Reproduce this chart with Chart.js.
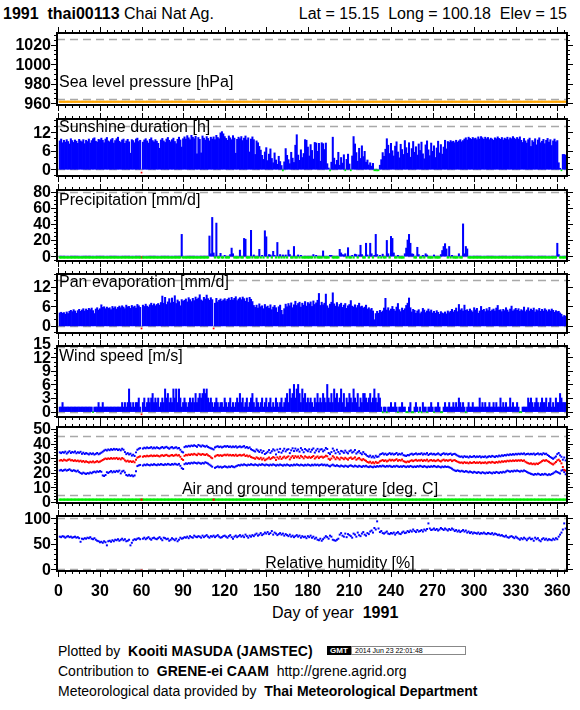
<!DOCTYPE html>
<html>
<head>
<meta charset="utf-8">
<script src="https://cdn.jsdelivr.net/npm/chart.js@4.4.1/dist/chart.umd.min.js"></script>
<style>
    body { margin: 0; width: 580px; height: 710px; background: #fff; position: relative; overflow: hidden;
           font-family: "Liberation Sans", Arial, sans-serif; color: #000; }
    canvas { position: absolute; left: 0; }
    .t { position: absolute; white-space: pre; line-height: 18px; }
    .f { position: absolute; white-space: pre; font-size: 14px; line-height: 16px; left: 58px; }
    .gmt { position: absolute; left: 327px; top: 646px; width: 24px; height: 9px; background: #000; color: #fff;
           font: bold 8px/9px "Liberation Sans", Arial, sans-serif; text-align: center; }
    .stamp { position: absolute; left: 351px; top: 646px; width: 110px; height: 7px; border: 1px solid #888;
             font: 7px/7px "Liberation Sans", Arial, sans-serif; padding-left: 3px; }
</style>
</head>
<body>
<div class="t" style="left:3px; top:5px; font-size:16px;"><b>1991  thai00113</b> Chai Nat Ag.</div>
<div class="t" style="right:13px; top:5px; font-size:16px;">Lat = 15.15  Long = 100.18  Elev = 15</div>
<div class="t" style="left:272px; top:604px; font-size:16px;">Day of year  <b>1991</b></div>
<div class="f" style="top:643px;">Plotted by  <b>Kooiti MASUDA (JAMSTEC)</b></div>
<div class="gmt">GMT</div>
<div class="stamp">2014 Jun 23 22:01:48</div>
<div class="f" style="top:663px;">Contribution to  <b>GRENE-ei CAAM</b>  http://grene.agrid.org</div>
<div class="f" style="top:683px;">Meteorological data provided by  <b>Thai Meteorological Department</b></div>

<script>
// day of year, 1..366 (day 60 is the empty Feb 29 slot)
const days = Array.from({ length: 366 }, (_, i) => i + 1);
const dayTicks = [0, 30, 60, 90, 120, 150, 180, 210, 240, 270, 300, 330, 360];

// no pressure reports this year
const pressure = new Array(366).fill(null);
const groundTemp = new Array(366).fill(null);

const sunshine = [
    9.2, 9.8, 8.6, 9.4, 8.8, 9.6, 9.0, 8.2, 9.9, 9.3,
    8.7, 9.5, 9.1, 8.4, 9.7, 9.2, 8.9, 9.6, 8.3, 9.4,
    9.0, 9.8, 8.5, 9.3, 9.9, 10.2, 9.1, 8.8, 9.7, 9.5,
    10.1, 9.4, 8.6, 9.8, 10.3, 9.2, 8.9, 9.6, 10.0, 8.5,
    9.3, 9.9, 10.4, 9.1, 8.7, 9.5, 9.8, 8.4, 9.2, 9.7,
    8.9, 5.2, 9.6, 9.3, 8.6, 9.8, 10.1, 9.0, 9.4, null,
    8.8, 9.5, 9.9, 9.2, 8.5, 9.7, 10.2, 9.3, 8.9, 9.6,
    9.1, 8.4, 6.8, 9.5, 10.0, 9.2, 8.7, 9.8, 10.3, 9.4,
    8.9, 9.6, 10.1, 9.0, 8.3, 9.7, 10.4, 9.5, 7.2, 9.9,
    10.5, 9.8, 10.9, 10.2, 9.6, 11.0, 10.4, 9.9, 10.7, 5.0,
    10.3, 9.7, 5.3, 10.8, 10.1, 9.5, 10.6, 10.0, 9.2, 10.4,
    9.8, 10.5, 9.6, 11.0, 10.3, 9.9, 11.8, 12.2, 11.5, 10.6,
    10.0, 9.4, 10.8, 10.2, 9.6, 10.9, 10.1, 5.2, 9.7, 10.4,
    9.9, 10.6, 9.3, 10.1, 10.8, 9.5, 10.2, 5.6, 9.8, 10.5,
    9.6, 4.8, 9.2, 8.6, 7.4, 6.2, 4.5, 3.2, 5.6, 7.0,
    2.8, 4.9, 6.6, 3.5, 2.1, 5.3, 3.0, 1.6, 4.2, 2.5,
    1.2, 0, 2.4, 6.7, 4.5, 3.1, 1.8, 5.5, 3.6, 2.2,
    7.8, 11.2, 4.6, 2.9, 6.3, 3.8, 5.1, 9.6, 9.4, 7.2,
    4.3, 8.0, 6.1, 3.3, 8.7, 8.5, 5.8, 8.4, 2.6, 8.6,
    8.3, 6.4, 8.5, 1.8, 0.4, 0, 2.3, 10.4, 3.6, 1.5,
    2.9, 5.5, 1.3, 3.8, 2.0, 4.7, 0, 3.2, 4.9, 1.7,
    0, 4.3, 10.6, 8.2, 5.4, 2.6, 6.8, 3.5, 7.6, 4.1,
    5.8, 2.3, 3.0, 1.4, 2.1, 1.0, 1.9, 0, 0, 0,
    0, 1.3, 3.1, 5.4, 4.2, 6.5, 9.9, 7.8, 5.1, 8.4,
    6.0, 4.3, 7.5, 8.9, 5.6, 3.7, 8.1, 6.4, 4.8, 9.3,
    7.0, 5.2, 8.6, 3.9, 6.7, 9.0, 5.5, 7.3, 4.6, 8.2,
    6.1, 8.8, 5.0, 3.4, 7.9, 9.2, 6.3, 4.4, 8.5, 5.8,
    7.6, 3.8, 6.9, 9.1, 5.3, 8.0, 4.9, 7.2, 9.4, 6.6,
    9.0, 8.7, 9.3, 8.9, 9.1, 8.6, 9.4, 8.8, 9.2, 9.6,
    8.9, 9.3, 9.8, 10.2, 9.5, 10.4, 10.0, 9.7, 10.3, 9.9,
    10.1, 9.6, 10.5, 9.8, 10.6, 10.2, 9.7, 10.4, 9.9, 10.3,
    9.6, 10.1, 9.8, 9.4, 10.2, 9.9, 10.5, 10.0, 9.7, 10.3,
    9.5, 10.1, 9.8, 10.4, 9.6, 10.2, 9.9, 10.6, 10.1, 9.7,
    10.3, 9.8, 10.5, 9.4, 8.7, 10.0, 9.2, 8.5, 9.6, 10.1,
    7.4, 9.3, 8.8, 9.9, 7.9, 9.5, 10.2, 8.6, 9.1, 9.7,
    8.3, 9.4, 10.0, 8.8, 9.6, 7.7, 9.2, 9.8, 8.9, 9.3,
    2.1, 0.3, 0, 4.8, 4.8, 4.6
];

const precip = [
    0, 0, 0, 0, 0, 0, 0, 0, 0, 0,
    0, 0, 0, 0, 0, 0, 0, 0, 0, 0,
    0, 0, 0, 0, 0, 0, 0, 0, 0, 0,
    0, 0, 0, 0, 0, 0, 0, 0, 0, 0,
    0, 0, 0, 0, 0, 0, 0, 0, 0, 0,
    0, 0, 0, 0, 0, 0, 0, 0, 0, null,
    0, 0, 0, 0, 0, 0, 0, 0, 0, 0,
    0, 0, 0, 0, 0, 0, 0, 0, 0, 0,
    0, 0, 0, 0, 0, 0, 0, 0, 27, 0,
    0, 0, 0, 0, 0, 0, 0, 0, 0, 0,
    0, 0, 0, 0, 0, 0, 0, 0, 25, 3,
    48, 4, 0, 41, 0, 0, 3.5, 0, 0, 1,
    0, 0, 0, 2, 10, 3, 0, 0, 0, 0,
    7.5, 0, 0, 22, 21, 0, 0, 0, 32, 0,
    1.5, 0, 0, 0, 8.5, 0, 1, 0, 31.5, 24,
    0, 2, 1.5, 0, 6, 1, 0, 17, 0, 2,
    0, 1.5, 0, 1.5, 0, 7.5, 2, 0, 0, 12,
    0, 0, 1.5, 0, 1, 0, 0, 0, 0, 0,
    0, 0, 0, 2, 0, 1, 0, 0, 0, 0,
    6.5, 0, 0, 0, 0, 1, 1, 0, 0, 0,
    0, 0, 8.5, 4, 2, 1.5, 3, 0, 10.5, 0,
    0, 1, 0, 2.5, 2, 0, 1.5, 13.5, 2, 0,
    0, 16, 1.5, 0, 16, 3, 0, 1, 27, 2,
    0, 1, 0, 2.5, 0, 0, 19.5, 3, 0, 24.5,
    22, 4, 0, 0, 1, 0, 0, 0, 0, 3,
    10, 20, 27, 16, 3, 2.5, 0, 0, 11, 2,
    0, 0, 1, 0, 3, 1.5, 0, 0, 0, 0,
    1.5, 0, 0, 0, 0, 2, 7, 12, 15.5, 9,
    0, 12, 0, 1, 0, 0, 0, 0, 3, 0,
    0, 40, 3, 12, 9, 0, 0, 0, 0, 0,
    0, 0, 0, 0, 0, 0, 0, 0, 0, 0,
    0, 0, 0, 0, 0, 0, 0, 0, 0, 0,
    0, 0, 0, 0, 0, 0, 0, 0, 0, 0,
    0, 0, 0, 0, 0, 0, 0, 0, 0, 0,
    0, 0, 0, 0, 0, 0, 0, 0, 0, 0,
    0, 0, 0, 0, 0, 0, 0, 0, 0, 16,
    2, 0, 0, 0, 0, 0
];

const panEvap = [
    4.0, 4.2, 3.9, 4.1, 3.6, 4.3, 3.8, 4.5, 4.8, 4.4,
    5.0, 4.6, 3.9, 4.7, 5.1, 4.5, 4.9, 5.3, 4.6, 5.2,
    4.8, 5.4, 5.0, 5.5, 4.7, 3.8, 5.2, 5.6, 4.9, 5.3,
    6.5, 5.7, 5.9, 5.3, 5.8, 5.4, 5.6, 5.0, 6.0, 5.5,
    5.9, 5.2, 5.7, 6.1, 5.6, 6.2, 5.8, 5.3, 6.4, 5.9,
    6.0, 5.4, 6.3, 5.8, 6.1, 5.5, 6.6, 6.2, 5.7, null,
    6.4, 6.0, 6.7, 6.1, 5.8, 6.5, 7.0, 6.3, 6.8, 6.2,
    6.6, 6.9, 6.4, 7.2, 9.2, 7.0, 8.8, 6.6, 7.4, 8.4,
    7.1, 8.6, 7.3, 9.3, 6.9, 8.0, 7.5, 6.2, 8.1, 7.6,
    7.9, 8.3, 7.4, 8.7, 8.1, 7.5, 8.5, 7.8, 8.9, 8.2,
    8.6, 9.6, 8.0, 7.7, 8.8, 8.3, 9.5, 8.4, 7.9, 8.7,
    8.1, null, 7.0, 8.5, 7.4, 7.9, 8.3, 7.6, 8.0, 8.4,
    7.7, 8.2, 8.6, 7.9, 8.8, 8.0, 8.5, 9.0, 7.8, 8.3,
    8.7, 8.1, 8.9, 8.4, 7.6, 8.6, 7.3, 8.8, 8.2, 7.5,
    6.3, 5.7, 6.4, 5.5, 6.8, 5.9, 6.2, 5.3, 6.6, 5.8,
    6.1, 5.4, 6.5, 5.0, 5.8, 6.3, 5.6, 4.2, 5.9, 6.4,
    4.8, 3.5, 5.3, 6.7, 5.9, 6.9, 6.2, 7.1, 5.6, 6.5,
    7.6, 6.3, 6.9, 7.3, 5.8, 7.0, 6.4, 7.5, 6.1, 7.2,
    6.8, 7.4, 6.0, 7.7, 6.6, 7.1, 7.9, 10.0, 6.3, 7.3,
    6.5, 7.0, 9.8, 6.2, 5.5, 6.7, 7.3, 10.2, 6.8, 6.1,
    7.2, 5.9, 6.6, 7.0, 5.7, 6.4, 6.9, 5.4, 6.2, 6.6,
    7.8, 6.1, 5.8, 6.5, 5.6, 6.3, 7.0, 5.9, 6.1, 5.5,
    5.8, 6.4, 5.2, 5.6, 5.0, 5.4, 4.6, 1.9, 3.8, 4.5,
    3.9, 4.8, 4.2, 4.6, 5.5, 8.5, 4.9, 5.6, 4.7, 5.2,
    6.0, 5.1, 4.6, 5.8, 6.9, 5.0, 4.4, 5.5, 4.8, 5.3,
    6.3, 7.0, 8.6, 5.6, 4.3, 5.1, 4.8, 3.9, 4.6, 5.0,
    3.8, 4.3, 5.4, 4.9, 4.1, 4.6, 5.2, 4.4, 4.9, 4.0,
    4.5, 3.9, 4.7, 4.2, 3.6, 4.4, 4.0, 3.8, 4.3, 3.7,
    4.6, 4.1, 4.5, 5.1, 4.3, 4.8, 5.5, 4.4, 6.6, 4.9,
    5.3, 4.6, 6.4, 4.8, 5.0, 4.5, 5.2, 4.7, 4.3, 5.6,
    4.9, 5.4, 3.9, 4.6, 6.0, 4.8, 5.1, 4.4, 5.3, 4.7,
    5.7, 4.5, 4.9, 5.2, 4.6, 5.5, 6.3, 4.8, 5.0, 4.4,
    5.1, 4.7, 5.6, 4.9, 4.3, 5.2, 6.1, 4.6, 5.0, 5.4,
    4.8, 5.3, 4.5, 5.0, 4.7, 5.8, 4.4, 4.9, 5.6, 4.6,
    5.2, 4.8, 5.5, 4.3, 5.0, 4.7, 5.4, 4.5, 5.1, 4.6,
    5.3, 4.9, 4.4, 5.0, 4.6, 5.2, 4.8, 4.2, 4.7, 4.4,
    4.5, 4.0, 3.6, 2.8, 3.2, 3.0
];

const wind = [
    1, 1, 2, 1, 1, 1, 1, 1, 1, 1,
    1, 1, 1, 1, 1, 1, 1, 1, 1, 1,
    1, 1, 1, 1, 0, 1, 1, 1, 2, 1,
    1, 2, 1, 1, 1, 1, 1, 1, 1, 1,
    1, 1, 1, 1, 1, 2, 1, 2, 1, 2,
    5, 2, 1, 2, 1, 2, 2, 3, 1, null,
    2, 3, 1, 2, 3, 2, 3, 4, 2, 3,
    2, 3, 1, 2, 3, 2, 5, 3, 4, 2,
    3, 2, 5, 3, 5, 2, 5, 3, 1, 2,
    3, 2, 1, 2, 3, 2, 3, 2, 4, 2,
    3, 4, 3, 4, 5, 4, 5, 3, 2, 3,
    2, 1, 2, 3, 2, 1, 2, 2, 1, 3,
    2, 1, 2, 3, 1, 2, 1, 2, 3, 2,
    4, 2, 3, 1, 2, 3, 1, 2, 3, 4,
    2, 1, 3, 2, 1, 2, 3, 1, 2, 3,
    1, 2, 3, 1, 2, 1, 3, 2, 1, 2,
    3, 1, 2, 3, 4, 2, 5, 3, 4, 6,
    3, 5, 6, 4, 2, 5, 3, 4, 2, 3,
    2, 3, 2, 1, 3, 2, 4, 2, 3, 2,
    4, 3, 2, 6, 3, 2, 4, 2, 5, 3,
    4, 2, 3, 5, 2, 4, 1, 3, 2, 4,
    3, 2, 5, 3, 2, 4, 1, 3, 2, 4,
    4, 3, 2, 3, 4, 2, 3, 5, 3, 2,
    4, 3, 1, 0, 1, 1, 0, 1, 1, 2,
    1, 1, 2, 1, 0, 1, 1, 2, 1, 1,
    0, 0, 1, 2, 0, 0, 1, 2, 1, 0,
    1, 0, 2, 1, 1, 0, 1, 1, 2, 1,
    0, 1, 1, 2, 1, 0, 0, 1, 2, 1,
    1, 2, 1, 1, 2, 1, 2, 1, 3, 2,
    1, 2, 1, 0, 1, 2, 1, 1, 2, 1,
    1, 1, 1, 3, 1, 2, 1, 2, 1, 1,
    2, 1, 1, 2, 1, 2, 1, 1, 3, 1,
    2, 1, 2, 1, 1, 3, 1, 2, 1, 1,
    2, 1, 0, 0, 1, 1, 1, 1, 3, 2,
    3, 2, 1, 2, 3, 2, 1, 2, 3, 2,
    2, 3, 1, 2, 3, 1, 2, 1, 3, 2,
    2, 4, 3, 2, 2, 2
];

const tempMax = [
    34.0, 33.5, 34.2, 33.8, 34.5, 33.2, 34.0, 34.8, 33.6, 34.3,
    33.9, 34.6, 33.4, 34.1, 33.7, 34.4, 33.0, 33.8, 32.9, 33.5,
    33.1, 32.6, 33.4, 32.8, 33.3, 32.5, 33.0, 33.6, 32.7, 33.2,
    33.8, 34.5, 35.2, 35.8, 35.3, 36.0, 35.5, 36.2, 35.7, 36.4,
    35.9, 36.3, 35.6, 36.1, 35.4, 36.5, 35.8, 34.2, 32.8, 33.5,
    32.6, 33.1, 31.8, 32.4, 31.5, 34.0, 35.8, 36.5, 36.9, null,
    36.6, 37.2, 36.8, 37.4, 36.9, 37.1, 37.6, 36.7, 37.3, 36.8,
    37.5, 37.0, 36.6, 37.2, 37.7, 36.9, 37.4, 37.8, 37.1, 36.5,
    37.3, 37.6, 36.8, 37.2, 37.5, 36.7, 37.0, 35.8, 34.5, 34.0,
    37.6, 38.2, 37.9, 38.5, 38.1, 38.7, 38.3, 38.9, 38.4, 37.8,
    39.1, 38.6, 38.0, 38.8, 38.3, 37.9, 38.5, 37.7, 37.2, 36.8,
    36.5, 36.0, 37.4, 37.9, 38.2, 37.6, 38.0, 37.4, 37.8, 38.3,
    37.9, 38.4, 37.7, 38.1, 37.5, 38.0, 37.6, 38.2, 37.3, 37.8,
    38.1, 37.5, 37.9, 38.3, 37.2, 37.7, 36.9, 37.4, 36.2, 35.6,
    35.1, 34.6, 36.0, 35.2, 34.3, 35.5, 33.8, 34.9, 32.9, 33.5,
    34.4, 35.6, 33.7, 34.8, 36.1, 35.3, 32.6, 35.9, 34.2, 36.4,
    33.8, 35.1, 36.5, 34.7, 35.8, 36.2, 33.5, 35.4, 36.8, 34.9,
    36.6, 35.2, 36.0, 34.5, 36.9, 35.7, 34.1, 36.3, 35.5, 34.8,
    36.1, 34.4, 35.8, 36.7, 33.9, 35.3, 36.4, 34.6, 35.9, 36.2,
    34.7, 35.5, 37.0, 36.3, 33.6, 32.8, 34.2, 36.6, 35.1, 33.4,
    35.8, 34.3, 33.1, 35.0, 34.6, 33.7, 35.2, 34.0, 33.3, 34.8,
    35.4, 33.9, 34.5, 35.6, 33.2, 34.1, 34.9, 33.5, 32.7, 34.2,
    33.0, 32.4, 31.5, 31.0, 31.8, 30.6, 31.3, 30.4, 31.7, 30.9,
    31.2, 32.5, 32.9, 33.4, 32.6, 33.1, 32.3, 32.8, 33.5, 32.7,
    33.2, 32.5, 32.9, 33.6, 32.4, 33.0, 32.6, 33.3, 32.1, 31.8,
    31.5, 32.2, 32.0, 32.7, 33.1, 32.4, 32.9, 33.3, 32.6, 33.0,
    32.8, 33.4, 32.5, 33.1, 32.7, 33.5, 32.2, 32.9, 33.2, 32.6,
    33.0, 32.4, 32.8, 33.3, 32.6, 32.1, 32.9, 33.4, 32.7, 33.1,
    32.5, 32.9, 33.2, 32.3, 32.8, 33.0, 32.4, 31.8, 31.3, 31.0,
    31.2, 30.6, 31.4, 30.9, 31.1, 30.5, 31.3, 30.8, 31.0, 31.5,
    30.7, 31.2, 30.9, 31.4, 30.6, 31.1, 30.8, 31.3, 30.5, 31.0,
    31.4, 30.9, 31.6, 31.2, 30.8, 31.5, 31.1, 31.8, 31.3, 32.0,
    31.6, 32.2, 31.9, 32.5, 32.1, 32.7, 32.3, 32.8, 32.4, 33.0,
    32.6, 33.1, 32.7, 33.2, 32.8, 33.3, 32.5, 32.9, 33.1, 32.6,
    33.0, 32.7, 33.2, 32.4, 32.9, 33.3, 32.6, 33.0, 32.5, 33.4,
    32.8, 33.1, 32.2, 31.5, 30.8, 30.2, 29.6, 30.4, 31.2, 32.8,
    33.6, 32.0, 31.0, 29.0, 30.5, 28.5
];

const tempMean = [
    28.4, 28.8, 28.2, 29.0, 28.6, 28.3, 28.9, 29.2, 28.5, 28.7,
    28.1, 28.6, 28.0, 28.4, 27.8, 28.3, 27.6, 28.1, 27.3, 27.9,
    27.4, 27.0, 27.6, 27.2, 27.8, 27.1, 27.5, 28.0, 27.3, 27.7,
    28.2, 28.8, 29.3, 29.8, 29.4, 29.9, 29.5, 30.1, 29.6, 30.0,
    29.7, 30.2, 29.4, 29.9, 29.2, 30.1, 29.6, 28.5, 27.8, 28.3,
    27.6, 28.0, 27.4, 27.9, 27.2, 28.9, 30.4, 30.9, 31.3, null,
    31.0, 31.5, 31.2, 31.7, 31.3, 31.6, 31.9, 31.4, 31.8, 31.5,
    31.9, 31.6, 31.2, 31.8, 32.1, 31.5, 32.0, 32.3, 31.7, 31.4,
    31.9, 32.2, 31.6, 32.0, 32.4, 31.8, 32.1, 31.0, 29.5, 28.8,
    31.6, 32.3, 32.0, 32.6, 32.2, 32.8, 32.4, 33.0, 32.5, 32.1,
    33.1, 32.7, 32.3, 32.9, 32.5, 32.2, 32.8, 32.0, 31.5, 30.6,
    30.0, null, 31.2, 31.8, 32.2, 31.7, 32.1, 31.6, 32.0, 32.4,
    32.0, 32.5, 31.9, 32.3, 31.8, 32.2, 31.7, 32.4, 31.6, 32.0,
    32.3, 31.8, 32.1, 32.5, 31.5, 31.9, 31.2, 31.7, 30.8, 30.4,
    30.1, 29.6, 30.6, 30.0, 29.4, 30.3, 29.1, 29.9, 28.6, 29.2,
    29.8, 30.5, 29.4, 30.1, 30.8, 30.3, 28.8, 30.6, 29.7, 31.0,
    29.5, 30.4, 31.1, 30.0, 30.7, 31.3, 29.2, 30.5, 31.5, 30.2,
    31.4, 30.6, 31.2, 30.1, 31.6, 30.9, 29.9, 31.3, 30.7, 30.3,
    31.0, 30.2, 30.8, 31.5, 29.8, 30.6, 31.2, 30.1, 30.9, 31.1,
    30.4, 30.9, 31.7, 31.3, 29.6, 28.9, 29.8, 31.4, 30.5, 29.3,
    30.6, 29.9, 29.1, 30.4, 30.0, 29.3, 30.3, 29.6, 29.0, 30.1,
    30.5, 29.5, 29.9, 30.6, 29.0, 29.7, 30.2, 29.2, 28.6, 29.4,
    28.7, 28.2, 27.4, 27.0, 27.6, 26.6, 27.2, 26.5, 27.5, 26.8,
    27.0, 27.9, 28.3, 28.8, 28.1, 28.6, 27.8, 28.3, 29.0, 28.4,
    28.9, 28.3, 28.7, 29.3, 28.2, 28.8, 28.4, 29.1, 28.0, 27.6,
    27.2, 27.8, 27.5, 28.2, 28.6, 28.0, 28.5, 28.9, 28.2, 28.6,
    28.4, 28.9, 28.1, 28.7, 28.3, 29.0, 27.9, 28.5, 28.8, 28.2,
    28.6, 28.0, 28.4, 28.9, 28.2, 27.8, 28.5, 29.0, 28.3, 28.7,
    28.2, 28.6, 28.9, 28.0, 28.5, 28.7, 28.1, 27.6, 27.2, 26.9,
    27.1, 26.6, 27.3, 26.8, 27.0, 26.5, 27.2, 26.7, 26.9, 27.4,
    26.7, 27.1, 26.8, 27.3, 26.6, 27.0, 26.8, 27.2, 26.5, 27.0,
    27.3, 26.9, 27.5, 27.1, 26.8, 27.4, 27.0, 27.7, 27.2, 27.9,
    27.5, 28.0, 27.7, 28.3, 27.9, 28.4, 28.0, 28.5, 28.1, 28.6,
    28.2, 28.6, 28.3, 28.7, 28.1, 28.5, 27.6, 27.0, 26.6, 26.2,
    26.5, 25.9, 26.3, 25.8, 26.4, 26.0, 26.7, 27.3, 28.0, 28.6,
    28.2, 28.7, 28.0, 27.5, 26.8, 26.2, 25.7, 26.5, 27.4, 28.5,
    29.0, 28.0, 26.5, 24.0, 22.0, 21.5
];

const tempMin = [
    21.6, 22.0, 21.3, 21.8, 22.2, 21.5, 21.9, 22.4, 21.7, 21.2,
    21.8, 21.4, 20.9, 21.5, 20.5, 19.8, 19.4, 20.1, 19.6, 19.2,
    19.8, 19.5, 20.2, 19.7, 20.4, 20.8, 20.3, 21.0, 20.6, 21.2,
    20.7, 18.2, 17.8, 18.5, 20.4, 19.9, 20.6, 21.2, 20.3, 21.0,
    20.5, 21.3, 20.8, 21.5, 19.6, 20.9, 21.4, 20.2, 18.5, 18.0,
    18.6, 17.9, 18.3, 17.6, 18.2, 21.0, 24.6, 25.1, 25.4, null,
    25.0, 25.6, 25.2, 25.8, 25.4, 25.1, 25.7, 25.3, 25.9, 25.5,
    25.2, 25.8, 25.4, 26.0, 25.6, 25.3, 25.9, 25.5, 26.1, 25.7,
    25.4, 26.0, 25.6, 26.2, 25.8, 25.5, 26.1, 24.8, 23.2, 22.6,
    25.9, 26.5, 26.1, 26.7, 26.3, 26.9, 26.5, 27.1, 26.7, 26.4,
    27.0, 26.6, 26.2, 26.8, 26.4, 27.2, 26.8, 26.3, 25.6, 24.9,
    24.2, null, 23.4, 23.9, 24.4, 23.8, 24.2, 23.6, 24.0, 24.5,
    24.1, 23.7, 24.3, 23.9, 24.6, 24.2, 23.8, 24.4, 24.8, 25.3,
    25.0, 25.6, 25.2, 25.8, 25.4, 25.0, 25.6, 25.3, 25.9, 25.5,
    25.2, 25.8, 25.4, 25.0, 25.7, 25.3, 25.9, 25.5, 25.1, 25.7,
    25.4, 25.0, 25.6, 25.2, 25.8, 25.4, 24.9, 25.5, 25.1, 25.7,
    25.3, 24.9, 25.5, 25.1, 25.7, 25.3, 24.8, 25.4, 25.0, 25.6,
    25.2, 25.8, 25.4, 25.0, 25.6, 25.3, 24.9, 25.5, 25.1, 25.7,
    25.3, 24.9, 25.5, 25.1, 25.7, 25.2, 25.6, 25.0, 25.4, 25.8,
    25.2, 25.6, 25.0, 25.5, 24.8, 24.4, 25.1, 25.6, 25.0, 24.6,
    25.2, 24.7, 24.3, 25.0, 24.6, 24.2, 24.9, 24.5, 24.1, 24.8,
    25.1, 24.6, 24.2, 24.9, 24.5, 24.1, 24.8, 24.4, 24.0, 24.7,
    24.3, 24.8, 24.2, 23.9, 24.5, 24.1, 23.8, 24.4, 24.0, 24.6,
    24.2, 24.7, 24.3, 24.9, 24.5, 24.1, 24.7, 24.3, 24.8, 24.4,
    24.0, 24.6, 24.2, 24.8, 24.4, 24.0, 24.5, 24.1, 24.7, 24.3,
    23.9, 24.5, 24.1, 24.7, 24.3, 23.9, 24.4, 24.0, 24.6, 24.2,
    24.8, 24.4, 24.0, 24.6, 24.2, 23.8, 24.4, 24.0, 24.5, 24.1,
    24.7, 24.3, 23.9, 24.5, 24.1, 23.7, 24.3, 23.9, 24.4, 24.0,
    24.2, 23.8, 23.4, 22.8, 22.1, 21.6, 21.2, 21.7, 21.3, 20.9,
    21.4, 21.0, 20.6, 21.2, 20.8, 20.3, 20.9, 20.5, 20.0, 20.7,
    20.3, 19.9, 20.5, 20.1, 19.7, 20.4, 20.0, 19.6, 20.2, 19.8,
    20.4, 20.0, 19.6, 20.3, 19.9, 20.6, 20.2, 19.8, 20.5, 20.1,
    20.7, 20.3, 20.9, 21.5, 21.1, 20.7, 21.3, 20.9, 21.5, 21.1,
    21.6, 21.2, 20.8, 21.4, 21.0, 21.6, 21.2, 20.6, 20.1, 19.7,
    19.3, 19.0, 18.6, 19.2, 18.8, 19.4, 19.0, 18.5, 19.1, 18.7,
    19.3, 18.9, 18.4, 19.0, 18.6, 19.2, 19.6, 20.3, 21.0, 20.5,
    20.0, 19.5, 21.5, 22.0, 20.5, 19.0
];

const humidity = [
    64, 63, 65, 64, 62, 64, 65, 63, 64, 62,
    63, 64, 62, 63, 61, 54, 60, 59, 61, 60,
    62, 61, 63, 60, 59, 61, 58, 56, 55, 53,
    54, 52, 55, 53, 47, 55, 56, 54, 57, 55,
    58, 57, 59, 56, 58, 60, 57, 59, 55, 56,
    58, 47, 52, 57, 59, 58, 60, 61, 59, null,
    60, 62, 59, 61, 63, 60, 58, 61, 62, 60,
    59, 61, 63, 60, 57, 62, 61, 59, 60, 56,
    58, 61, 59, 57, 60, 55, 58, 62, 60, 61,
    63, 62, 64, 61, 65, 63, 62, 66, 64, 63,
    65, 64, 62, 66, 63, 65, 67, 64, 62, 65,
    64, 66, 63, 65, 67, 64, 62, 63, 65, 66,
    64, 62, 65, 67, 63, 60, 64, 66, 63, 65,
    67, 64, 66, 63, 68, 65, 62, 66, 64, 67,
    65, 68, 70, 66, 68, 71, 67, 69, 72, 70,
    73, 69, 71, 75, 68, 72, 70, 67, 69, 71,
    68, 70, 66, 69, 67, 65, 68, 64, 66, 63,
    65, 67, 64, 66, 62, 65, 63, 64, 61, 65,
    63, 66, 62, 64, 60, 62, 58, 57, 60, 56,
    59, 62, 65, 63, 60, 66, 64, 58, 57, 56,
    58, 60, 68, 71, 66, 64, 70, 63, 69, 67,
    65, 62, 70, 68, 64, 72, 67, 65, 70, 73,
    68, 66, 71, 69, 74, 76, 72, 81, 78, 94,
    80, 73, 75, 71, 70, 72, 74, 70, 69, 71,
    70, 72, 68, 71, 73, 70, 69, 72, 74, 71,
    72, 75, 73, 76, 74, 78, 75, 73, 77, 74,
    75, 77, 74, 78, 76, 79, 90, 80, 77, 78,
    80, 77, 79, 76, 78, 81, 79, 77, 80, 78,
    76, 79, 77, 80, 78, 75, 77, 74, 76, 73,
    75, 77, 74, 76, 72, 74, 71, 73, 70, 72,
    71, 70, 72, 69, 71, 70, 72, 70, 69, 71,
    70, 69, 71, 68, 70, 69, 67, 68, 66, 67,
    65, 64, 66, 63, 62, 64, 65, 63, 61, 64,
    62, 60, 58, 61, 59, 62, 60, 57, 60, 62,
    59, 60, 56, 62, 59, 61, 57, 55, 59, 61,
    58, 60, 57, 59, 58, 57, 60, 58, 61, 59,
    64, 68, 72, 78, 90, 80
];

const BLUE = '#0000ff', RED = '#ff0000', GREEN = '#00ee00', ORANGE = '#ffa500';
const FONT = '"Liberation Sans", Arial, sans-serif';

function pts(vals) {
    return vals.map((v, i) => ({ x: days[i], y: v }));
}

// flag marks: a small square under the axis for days that pass the test
function flags(vals, test, level) {
    return days.filter((d, i) => test(vals[i])).map(d => ({ x: d, y: level }));
}

function bars(vals) {
    return { type: 'bar', data: pts(vals), backgroundColor: BLUE, borderWidth: 0,
             barPercentage: 1, categoryPercentage: 1, order: 3 };
}

function dots(data, color, r) {
    return { type: 'scatter', data, backgroundColor: color, borderWidth: 0,
             pointStyle: 'rect', pointRadius: r, pointHoverRadius: r, order: 1 };
}

const isZero = v => v === 0;
const isMissing = v => v === null;

const framePlugin = {
    id: 'frame',
    beforeDatasetsDraw(chart, args, o) {
        const { ctx, chartArea: a, scales: { y } } = chart;
        ctx.save();
        ctx.strokeStyle = '#a8a8a8';
        ctx.lineWidth = 1.5;
        ctx.setLineDash([8, 5]);
        o.dashed.forEach(v => {
            const py = Math.round(y.getPixelForValue(v)) + 0.5;
            ctx.beginPath();
            ctx.moveTo(a.left, py);
            ctx.lineTo(a.right, py);
            ctx.stroke();
        });
        ctx.restore();
    },
    afterDraw(chart, args, o) {
        const { ctx, chartArea: a, scales: { x, y } } = chart;
        ctx.save();
        ctx.strokeStyle = '#000';
        ctx.lineWidth = 1;
        ctx.beginPath();
        for (let d = 0; d <= 365; d += 5) {
            const px = Math.round(x.getPixelForValue(d)) + 0.5;
            const len = d % 30 ? 3 : 6;
            ctx.moveTo(px, a.top); ctx.lineTo(px, a.top - len);
            ctx.moveTo(px, a.bottom); ctx.lineTo(px, a.bottom + len);
        }
        const first = Math.ceil(y.min / o.minor) * o.minor;
        for (let v = first; v <= y.max + 1e-6; v += o.minor) {
            const val = Math.round(v * 1000) / 1000;
            const py = Math.round(y.getPixelForValue(val)) + 0.5;
            const len = o.labels.includes(val) ? 6 : 3;
            ctx.moveTo(a.left, py); ctx.lineTo(a.left - len, py);
            ctx.moveTo(a.right, py); ctx.lineTo(a.right + len, py);
        }
        ctx.stroke();

        ctx.lineWidth = 2;
        ctx.strokeRect(a.left, a.top, a.right - a.left, a.bottom - a.top);

        ctx.fillStyle = '#000';
        ctx.font = 'bold 16px ' + FONT;
        ctx.textAlign = 'right';
        ctx.textBaseline = 'middle';
        o.labels.forEach(v => ctx.fillText(String(v), a.left - 6, y.getPixelForValue(v) + 1));

        if (o.xLabels) {
            ctx.textAlign = 'center';
            ctx.textBaseline = 'alphabetic';
            o.xLabels.forEach(d => ctx.fillText(String(d), x.getPixelForValue(d), a.bottom + 25));
        }

        ctx.font = '16px ' + FONT;
        ctx.textBaseline = 'alphabetic';
        ctx.textAlign = o.titleX ? 'center' : 'left';
        ctx.fillText(o.title, o.titleX || a.left + 2, a.top + o.titleDy);
        ctx.restore();
    }
};

const PAD = 14;

function panel(top, bottom, yMin, yMax, datasets, deco, extra = 0) {
    const cv = document.createElement('canvas');
    const h = bottom - top + 2 * PAD + extra;
    cv.width = 580;
    cv.height = h;
    cv.style.top = (top - PAD) + 'px';
    document.body.appendChild(cv);
    return new Chart(cv, {
        type: 'bar',
        data: { datasets },
        options: {
            responsive: false,
            animation: false,
            events: [],
            layout: { padding: { left: 57, right: 13, top: PAD, bottom: PAD + extra } },
            scales: {
                x: { type: 'linear', min: -1, max: 367, offset: false, display: false },
                y: { type: 'linear', min: yMin, max: yMax, display: false }
            },
            plugins: { legend: { display: false }, tooltip: { enabled: false }, frame: deco }
        },
        plugins: [framePlugin]
    });
}

// Sea level pressure
panel(33, 105, 958.2, 1032, [
    dots(flags(pressure, isMissing, 961.5), ORANGE, 1.5)
], { dashed: [1026, 964], labels: [960, 980, 1000, 1020], minor: 5,
     title: 'Sea level pressure [hPa]', titleDy: 54 });

// Sunshine duration
panel(119, 176, -2.2, 16.3, [
    bars(sunshine),
    dots(flags(sunshine, isZero, -0.35), GREEN, 1.2),
    dots(flags(sunshine, isMissing, -1.1), RED, 1.2)
], { dashed: [14, 0], labels: [0, 6, 12], minor: 2,
     title: 'Sunshine duration [h]', titleDy: 13 });

// Precipitation
panel(190, 261, -6, 82, [
    bars(precip),
    dots(flags(precip, isZero, -1.6), GREEN, 1.6),
    dots(flags(precip, isMissing, -1.6), RED, 1.6)
], { dashed: [80, 0], labels: [0, 20, 40, 60, 80], minor: 5,
     title: 'Precipitation [mm/d]', titleDy: 15 });

// Pan evaporation
panel(274, 333, -2.2, 16, [
    bars(panEvap),
    dots(flags(panEvap, isMissing, -0.8), RED, 1.2)
], { dashed: [14, 0], labels: [0, 6, 12], minor: 2,
     title: 'Pan evaporation [mm/d]', titleDy: 13 });

// Wind speed
panel(346, 417, -1.2, 14.5, [
    bars(wind),
    dots(flags(wind, isZero, -0.15), GREEN, 1.2),
    dots(flags(wind, isMissing, -0.6), RED, 1.2)
], { dashed: [14.3, 0], labels: [0, 3, 6, 9, 12, 15], minor: 1,
     title: 'Wind speed [m/s]', titleDy: 15 });

// Air and ground temperature
panel(427, 503, -0.7, 51.4, [
    dots(pts(tempMean), RED, 1.4),
    dots(pts(tempMax), BLUE, 1.4),
    dots(pts(tempMin), BLUE, 1.4),
    dots(flags(tempMean, isMissing, 1.6), RED, 1.6),
    dots(flags(groundTemp, isMissing, 1.6), GREEN, 1.6)
], { dashed: [45, 5], labels: [0, 10, 20, 30, 40, 50], minor: 2,
     title: 'Air and ground temperature [deg. C]', titleX: 310, titleDy: 67 });

// Relative humidity
panel(516, 571, -3.3, 104.5, [
    dots(pts(humidity), BLUE, 1.4),
    dots(flags(humidity, isMissing, -2), RED, 1.2)
], { dashed: [100, 0], labels: [0, 50, 100], minor: 10,
     title: 'Relative humidity [%]', titleX: 340, titleDy: 52, xLabels: dayTicks }, 16);
</script>
</body>
</html>
